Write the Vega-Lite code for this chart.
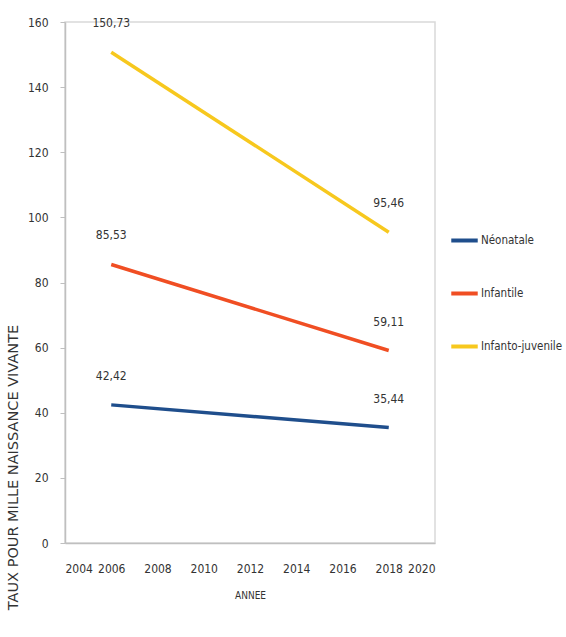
{
  "$schema": "https://vega.github.io/schema/vega-lite/v6.json",
  "autosize": {"type": "none"},
  "padding": {"left": 65, "top": 22, "right": 131, "bottom": 94},
  "width": 370,
  "height": 521,
  "background": "white",
  "data": {"values": [
    {"annee": 2006, "serie": "Néonatale", "taux": 42.42},
    {"annee": 2018, "serie": "Néonatale", "taux": 35.44},
    {"annee": 2006, "serie": "Infantile", "taux": 85.53},
    {"annee": 2018, "serie": "Infantile", "taux": 59.11},
    {"annee": 2006, "serie": "Infanto-juvenile", "taux": 150.73},
    {"annee": 2018, "serie": "Infanto-juvenile", "taux": 95.46}
  ]},
  "config": {
    "view": {"stroke": "#d9d9d9", "strokeWidth": 1.5},
    "font": "DejaVu Sans Condensed, sans-serif",
    "axis": {
      "grid": false,
      "domainColor": "#bfbfbf",
      "domainWidth": 1.5,
      "tickColor": "#bfbfbf",
      "tickSize": 4,
      "labelFont": "DejaVu Sans Condensed, sans-serif",
      "labelFontSize": 12,
      "labelColor": "#333333",
      "titleColor": "#333333",
      "titleFontWeight": "normal",
      "labelOverlap": false
    }
  },
  "encoding": {
    "x": {
      "field": "annee", "type": "quantitative",
      "scale": {"domain": [2004, 2020], "nice": false, "zero": false},
      "axis": {
        "values": [2004, 2006, 2008, 2010, 2012, 2014, 2016, 2018, 2020],
        "format": "d", "labelPadding": 20, "ticks": false,
        "title": "ANNEE",
        "titleFont": "DejaVu Sans Condensed, sans-serif",
        "titleFontSize": 10, "titlePadding": 16
      }
    },
    "y": {
      "field": "taux", "type": "quantitative",
      "scale": {"domain": [0, 160], "nice": false},
      "axis": {
        "values": [0, 20, 40, 60, 80, 100, 120, 140, 160],
        "labelPadding": 12, "ticks": true, "tickSize": 5,
        "title": "TAUX POUR MILLE NAISSANCE VIVANTE",
        "titleFont": "DejaVu Sans, sans-serif",
        "titleFontSize": 14.5,
        "titleX": -52, "titleY": 445, "titleAlign": "center", "titleBaseline": "middle", "titleAngle": -90
      }
    },
    "color": {
      "field": "serie", "type": "nominal",
      "sort": ["Néonatale", "Infantile", "Infanto-juvenile"],
      "scale": {
        "domain": ["Néonatale", "Infantile", "Infanto-juvenile"],
        "range": ["#1f4e8c", "#f04e23", "#f7c81e"]
      },
      "legend": {
        "title": null,
        "orient": "none",
        "legendX": 384,
        "legendY": 203,
        "symbolType": "stroke",
        "symbolSize": 700,
        "symbolStrokeWidth": 4,
        "labelFontSize": 11.5,
        "labelColor": "#333333",
        "labelFont": "DejaVu Sans Condensed, sans-serif",
        "labelOffset": 1,
        "rowPadding": 29,
        "labelLimit": 200
      }
    }
  },
  "layer": [
    {"mark": {"type": "line", "strokeWidth": 3.5}},
    {
      "transform": [{"calculate": "replace(format(datum.taux, '.2f'), '.', ',')", "as": "lbl"}],
      "mark": {"type": "text", "dy": -29, "fontSize": 12, "color": "#333333", "align": "center", "font": "DejaVu Sans Condensed, sans-serif"},
      "encoding": {"text": {"field": "lbl"}, "color": {"value": "#333333"}}
    }
  ]
}
